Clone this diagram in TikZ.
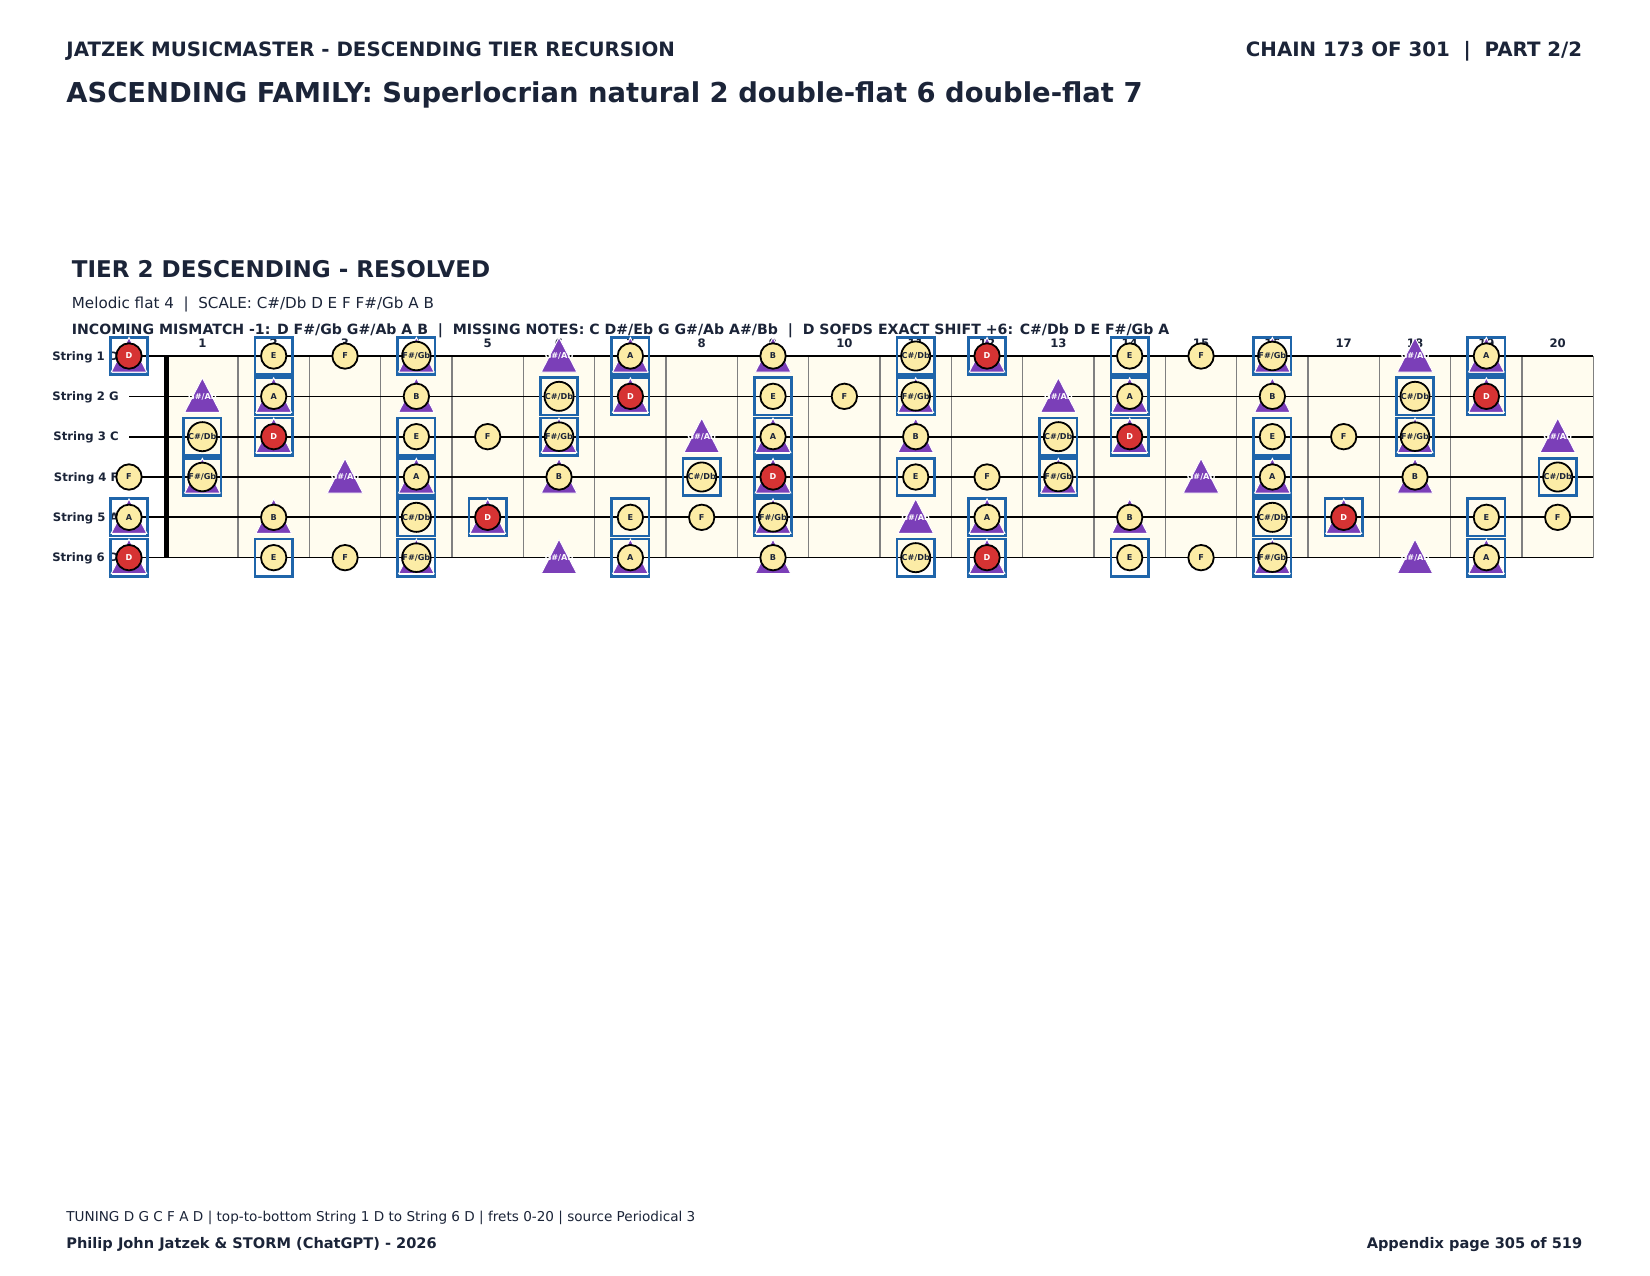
\documentclass[tikz,border=0pt]{standalone}
\usepackage{fontspec}
\setmainfont{DejaVu Sans}
\definecolor{navy}{HTML}{1B2438}
\definecolor{ny}{HTML}{FCECA6}
\definecolor{nr}{HTML}{D63333}
\definecolor{np}{HTML}{7B3FB8}
\definecolor{nb}{HTML}{1F65AA}
\definecolor{cream}{HTML}{FFFCEF}
\definecolor{fretgray}{HTML}{808080}
\begin{document}
\begin{tikzpicture}[x=0.48pt,y=-0.48pt,
  hdr/.style={font=\fontsize{9.5}{11}\selectfont\bfseries, text=navy, inner sep=0},
  ttl/.style={font=\fontsize{13.15}{15}\selectfont\bfseries, text=navy, inner sep=0},
  sec/.style={font=\fontsize{11.05}{13}\selectfont\bfseries, text=navy, inner sep=0},
  sub/.style={font=\fontsize{7.27}{9}\selectfont, text=navy, inner sep=0},
  info/.style={font=\fontsize{6.78}{8}\selectfont\bfseries, text=navy, inner sep=0},
  foot/.style={font=\fontsize{6.52}{8}\selectfont, text=navy, inner sep=0},
  footb/.style={font=\fontsize{7.0}{8.5}\selectfont\bfseries, text=navy, inner sep=0},
  slbl/.style={font=\fontsize{5.6}{7}\selectfont\bfseries, text=navy, inner sep=0, anchor=base east},
  fnum/.style={font=\fontsize{5.6}{7}\selectfont\bfseries, text=navy, inner sep=0},
  bx/.style={draw=nb, line width=1.3pt},
  tri/.style={fill=np, draw=white, line width=0.45pt},
  ncirc/.style={circle, draw=black, line width=0.86pt, minimum size=12.2pt, inner sep=0,
    font=\fontsize{3.9}{4.5}\selectfont\bfseries},
  tritext/.style={inner sep=0, text=white, font=\fontsize{3.9}{4.5}\selectfont\bfseries},
  thinstr/.style={draw=black, line width=0.5pt},
  thickstr/.style={draw=black, line width=1.0pt}
]
\useasboundingbox (0,0) rectangle (1650,1275);
\fill[white] (0,0) rectangle (1650,1275);

% headers
\node[hdr, anchor=base west] (hl) at (66,56.7) {JATZEK MUSICMASTER - DESCENDING TIER RECURSION};
\node[hdr, anchor=base east] (hr) at (1582.6,56.7) {CHAIN 173 OF 301\ \ |\ \ PART 2/2};
\node[ttl, anchor=base west] (title) at (66,102.5) {ASCENDING FAMILY: Superlocrian natural 2 double-flat 6 double-flat 7};
\node[sec, anchor=base west] (sect) at (71.5,277.3) {TIER 2 DESCENDING - RESOLVED};
\node[sub, anchor=base west] (subl) at (71.5,308.5) {Melodic flat 4\ \ |\ \ SCALE: C\#/Db D E F F\#/Gb A B};
\node[info, anchor=base west] (infol) at (71.5,334.6) {INCOMING MISMATCH -1: D F\#/Gb G\#/Ab A B\ \ |\ \ MISSING NOTES: C D\#/Eb G G\#/Ab A\#/Bb\ \ |\ \ D SOFDS EXACT SHIFT +6: C\#/Db D E F\#/Gb A};

% fretboard background
\fill[cream] (166.7,356) rectangle (1593.3,557.7);
\foreach \k in {1,...,20}{
  \draw[fretgray, line width=0.55pt] ({166.7+\k*71.333},356) -- ({166.7+\k*71.333},557.7);
}
% strings
\foreach \s/\st in {1/thinstr,2/thinstr,3/thickstr,4/thinstr,5/thickstr,6/thinstr}{
  \draw[\st] (129,{356+(\s-1)*40.33}) -- (1593.3,{356+(\s-1)*40.33});
}
% nut
\draw[black, line width=2.4pt] (166.7,356) -- (166.7,557.7);

% string labels
\foreach \s/\nm in {1/D,2/G,3/C,4/F,5/A,6/D}{
  \node[slbl] (sl\s) at (119,{356+(\s-1)*40.33+4.2}) {String \s\ \nm};
}
% fret numbers
\foreach \k in {1,...,20}{
  \node[fnum] (fn\k) at ({166.7+(\k-0.5)*71.333},343.5) {\k};
}

% markers
\foreach \s/\b in {1/2,2/7,3/0,4/5,5/9,6/2}{
  \pgfmathsetmacro\sy{356+(\s-1)*40.33}
  \foreach \f in {0,...,20}{
    \pgfmathsetmacro\fx{ifthenelse(\f==0,129,166.7+(\f-0.5)*71.333)}
    \pgfmathtruncatemacro\nn{mod(\b+\f,12)}
    \def\hasbox{0}\def\hastri{0}\def\circtype{0}\def\lbl{}
    \ifcase\nn
    \or \def\hasbox{1}\def\circtype{1}\def\lbl{C\#/Db}
    \or \def\hasbox{1}\def\hastri{1}\def\circtype{2}\def\lbl{D}
    \or
    \or \def\hasbox{1}\def\circtype{1}\def\lbl{E}
    \or \def\circtype{1}\def\lbl{F}
    \or \def\hasbox{1}\def\hastri{1}\def\circtype{1}\def\lbl{F\#/Gb}
    \or
    \or \def\hastri{2}
    \or \def\hasbox{1}\def\hastri{1}\def\circtype{1}\def\lbl{A}
    \or
    \or \def\hastri{1}\def\circtype{1}\def\lbl{B}
    \fi
    \ifnum\hasbox=1
      \draw[bx] ({\fx-18.7},{\sy-18.7}) rectangle ({\fx+18.7},{\sy+18.7});
    \fi
    \ifnum\hastri>0
      \filldraw[tri] (\fx,{\sy-18.5}) -- ({\fx-17.8},{\sy+16}) -- ({\fx+17.8},{\sy+16}) -- cycle;
    \fi
    \ifnum\hastri=2
      \node[tritext] (t\s-\f) at (\fx,\sy) {G\#/Ab};
    \fi
    \ifnum\circtype=1
      \node[ncirc, fill=ny, text=navy] (c\s-\f) at (\fx,\sy) {\lbl};
    \fi
    \ifnum\circtype=2
      \node[ncirc, fill=nr, text=white] (c\s-\f) at (\fx,\sy) {\lbl};
    \fi
  }
}

% footer
\node[foot, anchor=base west] (f1) at (66,1221) {TUNING D G C F A D | top-to-bottom String 1 D to String 6 D | frets 0-20 | source Periodical 3};
\node[footb, anchor=base west] (f2) at (66,1248.5) {Philip John Jatzek \& STORM (ChatGPT) - 2026};
\node[footb, anchor=base east] (f3) at (1582.6,1248.5) {Appendix page 305 of 519};
\end{tikzpicture}
\end{document}
